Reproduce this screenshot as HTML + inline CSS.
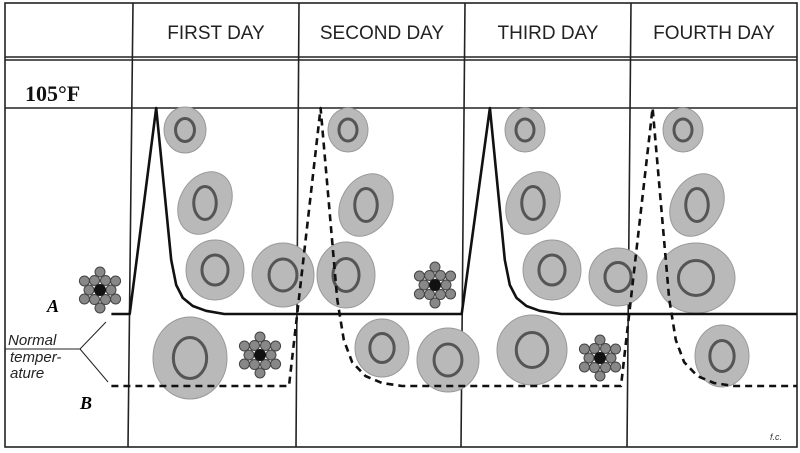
<!DOCTYPE html>
<html><head><meta charset="utf-8"><style>
body{margin:0;background:#fff;}
svg{display:block;font-family:"Liberation Sans",sans-serif;}
</style></head><body>
<svg width="800" height="453" viewBox="0 0 800 453">
<g id="grid" stroke="#222" stroke-width="1.6" fill="none">
<rect x="5" y="3" width="792" height="444"/>
<line x1="5" y1="57" x2="797" y2="57"/><line x1="5" y1="60" x2="797" y2="60"/>
<line x1="5" y1="108" x2="797" y2="108"/>
<line x1="133" y1="3" x2="128" y2="447"/><line x1="299" y1="3" x2="296" y2="447"/>
<line x1="465" y1="3" x2="461" y2="447"/><line x1="631" y1="3" x2="627" y2="447"/>
</g>
<g font-size="19" fill="#222" text-anchor="middle">
<text x="216" y="39">FIRST DAY</text>
<text x="382" y="39">SECOND DAY</text>
<text x="548" y="39">THIRD DAY</text>
<text x="714" y="39">FOURTH DAY</text>
</g>
<text x="25" y="101" font-family="Liberation Serif,serif" font-weight="bold" font-size="22" fill="#111">105°F</text>
<text x="47" y="312" font-family="Liberation Serif,serif" font-weight="bold" font-style="italic" font-size="18">A</text>
<text x="80" y="409" font-family="Liberation Serif,serif" font-weight="bold" font-style="italic" font-size="18">B</text>
<g font-style="italic" font-size="15" fill="#222">
<text x="8" y="345">Normal</text><text x="10" y="362">temper-</text><text x="10" y="378">ature</text>
</g>
<g stroke="#222" stroke-width="1">
<line x1="5" y1="349" x2="80" y2="349"/><line x1="80" y1="349" x2="106" y2="322"/><line x1="80" y1="349" x2="108" y2="382"/>
</g>
<g id="cells"></g>
<g id="series"></g>
<text x="770" y="440" font-size="9" font-style="italic" fill="#333">f.c.</text>
</svg>
<script>
const tA=[-0.13,-0.02,0.14,0.23,0.26,0.3,0.36,0.44,0.55,1.98,2.15,2.24,2.27,2.31,2.37,2.45,2.58,4];
const vA=[98.6,98.6,105,100.28,99.5,99.1,98.85,98.7,98.6,98.6,105,100.28,99.5,99.1,98.85,98.7,98.6,98.6];
const tB=[-0.13,0.94,1.13,1.23,1.27,1.32,1.4,1.5,1.62,2.94,3.13,3.23,3.27,3.32,3.4,3.5,3.62,4];
const vB=[98.6,98.6,105,100.6,99.66,99.15,98.83,98.67,98.6,98.6,105,100.6,99.66,99.15,98.83,98.67,98.6,98.6];
const NS="http://www.w3.org/2000/svg";
function x(t){return 133+t*166;}
function yA(v){return 314-(v-98.6)*206/6.4;}
function yB(v){return 386-(v-98.6)*278/6.4;}
const sg=document.getElementById('series');
function line(ts,vs,yf,dash,name){
 const p=document.createElementNS(NS,'path');
 p.setAttribute('d',ts.map((t,i)=>(i?'L':'M')+x(t).toFixed(1)+','+yf(vs[i]).toFixed(1)).join(''));
 p.setAttribute('fill','none');p.setAttribute('stroke','#111');p.setAttribute('stroke-width','2.6');
 p.setAttribute('stroke-linejoin','round');
 if(dash)p.setAttribute('stroke-dasharray','7,5');
 
 
 sg.appendChild(p);
}
line(tA,vA,yA,false,'series-a-line');
line(tB,vB,yB,true,'series-b-line');
const cells=[[185,130,21,23,0],[205,203,25,33,30],[215,270,29,30,0],[283,275,31,32,0],[346,275,29,33,0],[190,358,37,41,0],
[348,130,20,22,0],[366,205,25,33,30],[382,348,27,29,0],[448,360,31,32,0],[532,350,35,35,0],
[525,130,20,22,0],[533,203,25,33,30],[552,270,29,30,0],[618,277,29,29,0],[683,130,20,22,0],[697,205,25,33,30],[696,278,39,35,0],[722,356,27,31,0]];
const cg=document.getElementById('cells');
cells.forEach(c=>{
 const e=document.createElementNS(NS,'ellipse');
 e.setAttribute('cx',c[0]);e.setAttribute('cy',c[1]);e.setAttribute('rx',c[2]);e.setAttribute('ry',c[3]);
 e.setAttribute('transform','rotate('+c[4]+' '+c[0]+' '+c[1]+')');
 e.setAttribute('fill','#b9b9b9');e.setAttribute('stroke','#999');
 
 
 cg.appendChild(e);
 const d=document.createElementNS(NS,'ellipse');
 d.setAttribute('cx',c[0]);d.setAttribute('cy',c[1]);d.setAttribute('rx',c[2]*0.45);d.setAttribute('ry',c[3]*0.5);
 d.setAttribute('fill','none');d.setAttribute('stroke','#555');d.setAttribute('stroke-width','3');
 
 
 cg.appendChild(d);
});
const clusters=[[100,290],[260,355],[435,285],[600,358]];
clusters.forEach(c=>{
 for(let i=0;i<12;i++){const a=i/12*6.283,r=(i%2?18:11);
  const s=document.createElementNS(NS,'circle');
  s.setAttribute('cx',c[0]+Math.cos(a)*r);s.setAttribute('cy',c[1]+Math.sin(a)*r);s.setAttribute('r',5);
  s.setAttribute('fill','#888');s.setAttribute('stroke','#444');
  
  
  cg.appendChild(s);}
 const k=document.createElementNS(NS,'circle');
 k.setAttribute('cx',c[0]);k.setAttribute('cy',c[1]);k.setAttribute('r',6);k.setAttribute('fill','#111');
 
 
 cg.appendChild(k);
});
</script>
</body></html>
